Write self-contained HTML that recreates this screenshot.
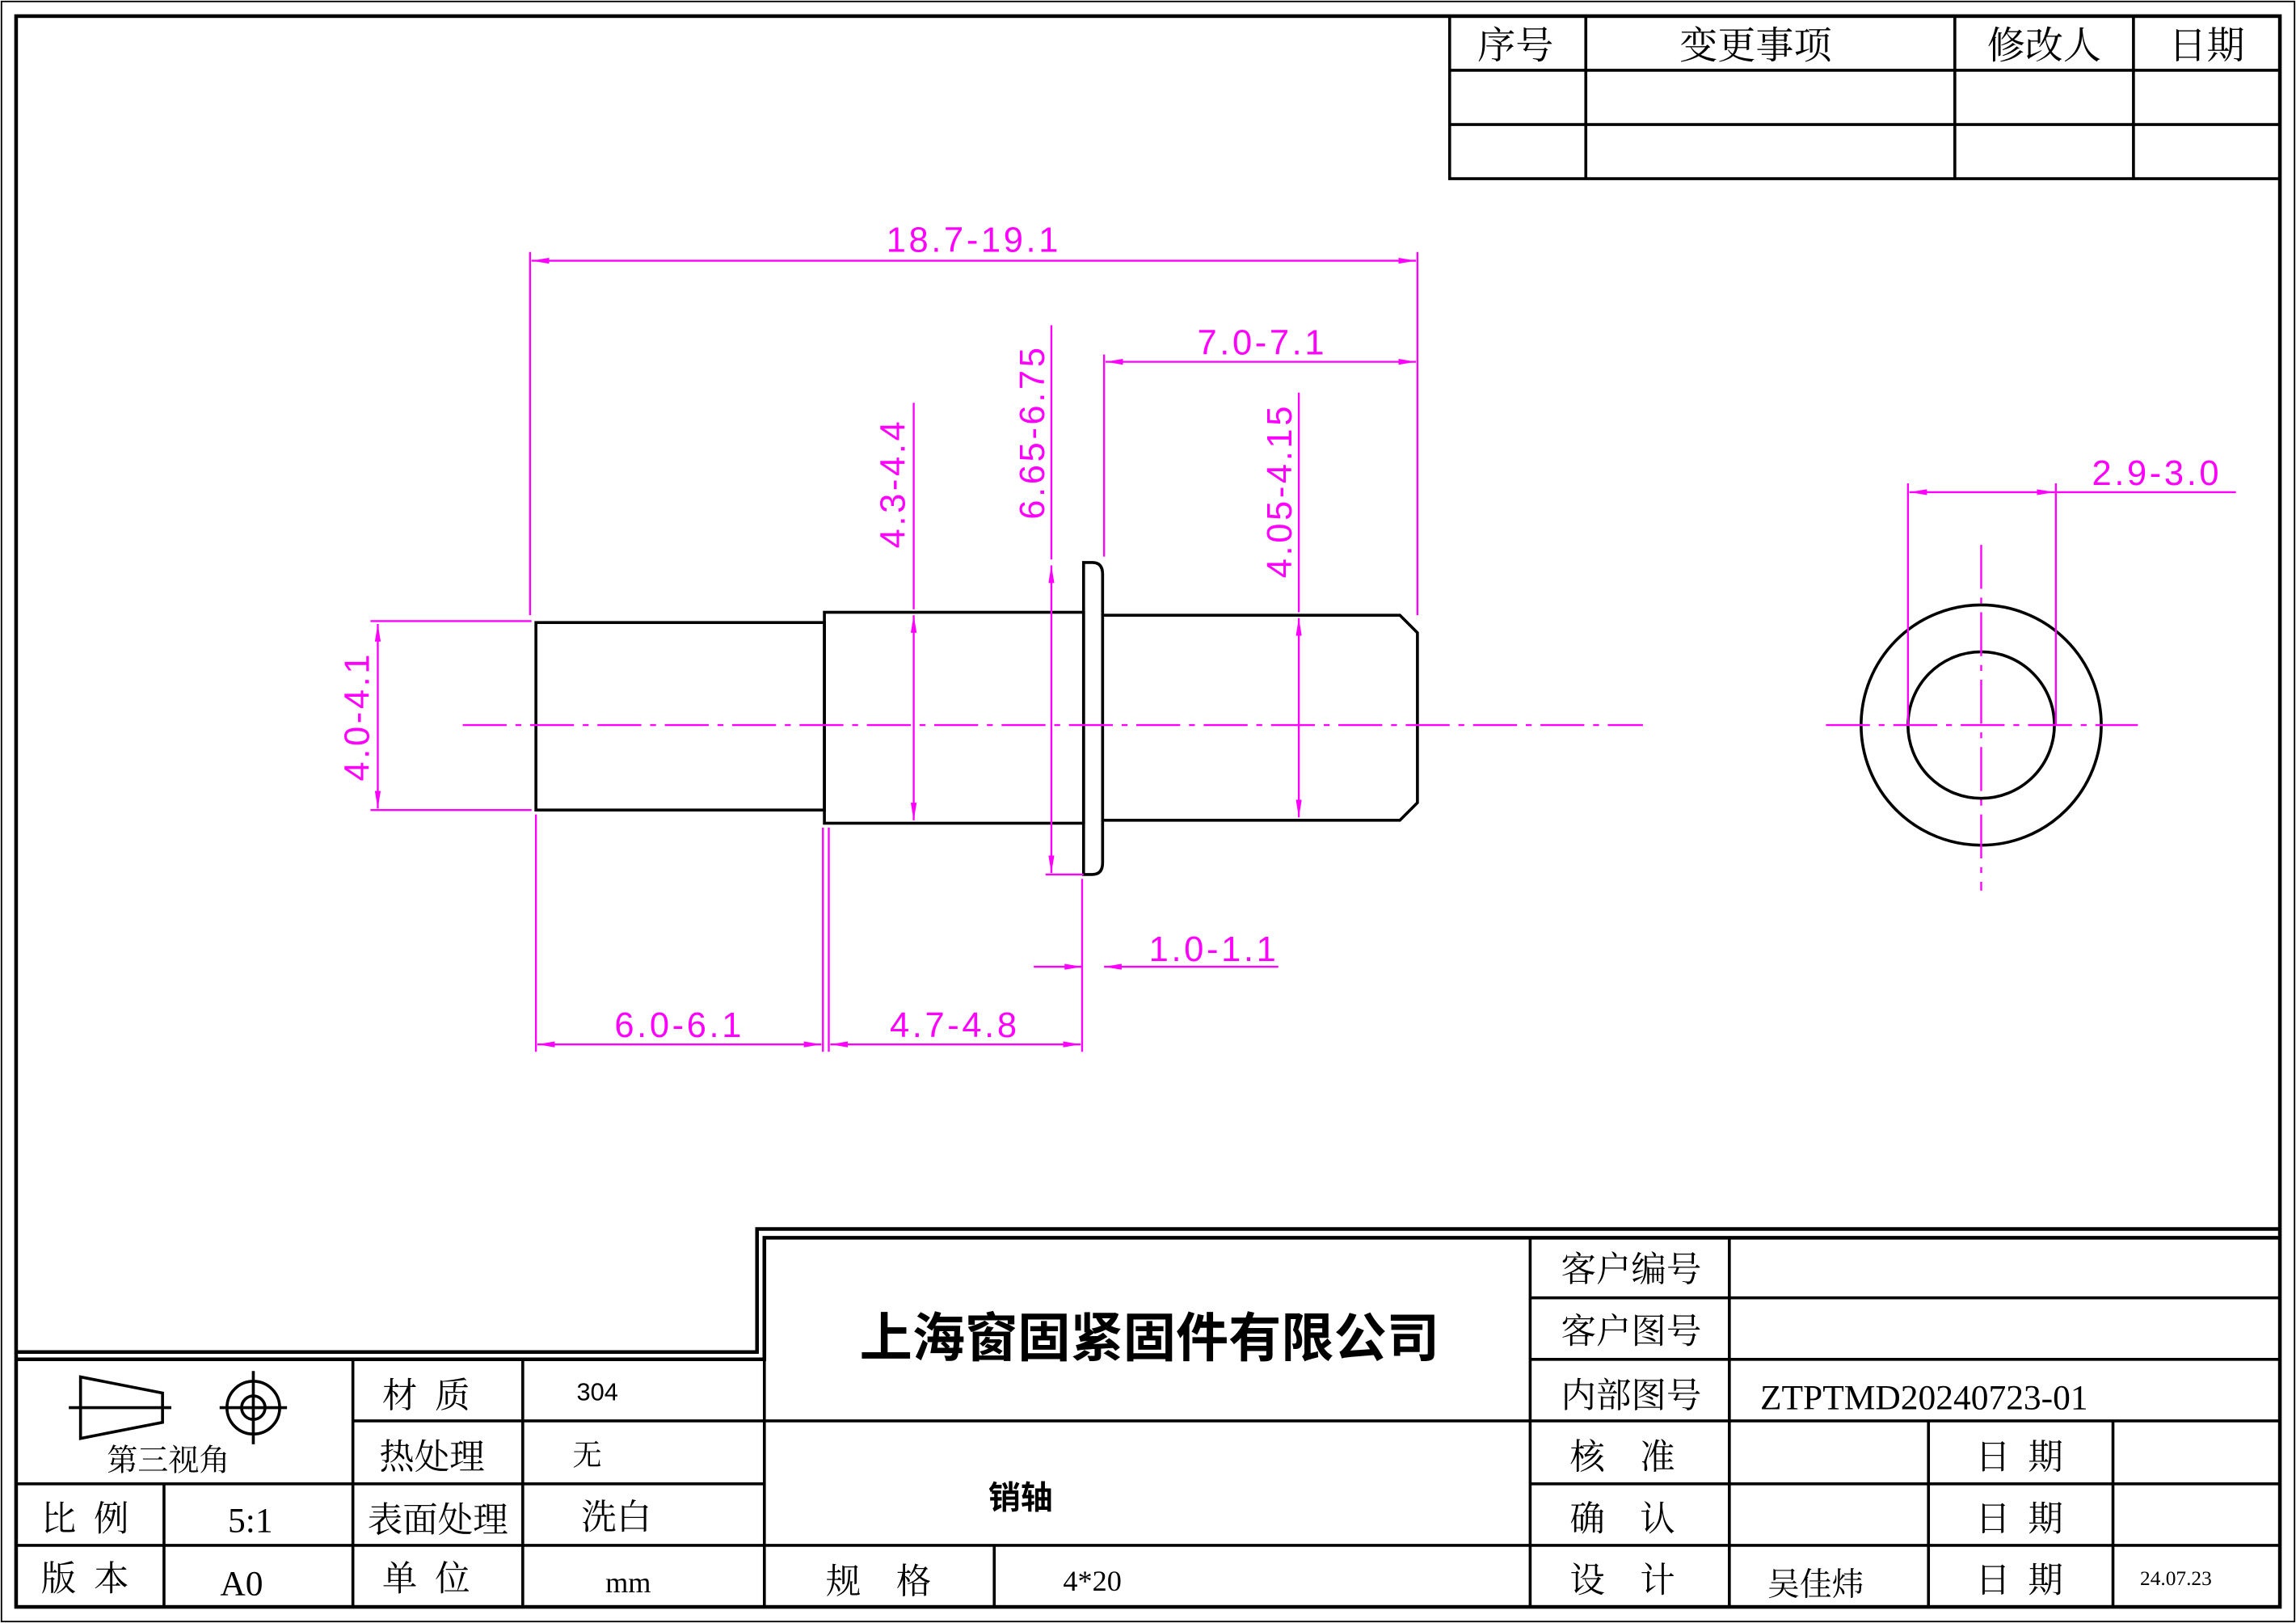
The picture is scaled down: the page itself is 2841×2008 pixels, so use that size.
<!DOCTYPE html>
<html><head><meta charset="utf-8"><style>
html,body{margin:0;padding:0;background:#fff;}
svg{display:block;}
text{font-family:"Liberation Serif","Noto Serif CJK SC","Noto Sans CJK SC",serif;white-space:pre;}
.t{font-size:24px;fill:#000;text-anchor:middle;}
.m{font-family:"Liberation Sans",sans-serif;font-size:24px;fill:#f0f;text-anchor:middle;}
</style></head><body>
<svg width="2841" height="2008" viewBox="0 0 1568 1108" preserveAspectRatio="none" xmlns="http://www.w3.org/2000/svg" xml:space="preserve">
<defs>
<marker id="a" viewBox="0 0 12 4" refX="12" refY="2" markerWidth="12" markerHeight="4" orient="auto-start-reverse" markerUnits="userSpaceOnUse"><path d="M0,0L12,2L0,4z" fill="#f0f"/></marker>
</defs>
<rect width="1568" height="1108" fill="#fff"/>
<rect x="1" y="1" width="1566" height="1106" fill="none" stroke="#000" stroke-width="1"/>
<rect x="11" y="11" width="1546" height="1086" fill="none" stroke="#000" stroke-width="2.5"/>
<g stroke="#000" stroke-width="2" fill="none">
<path d="M990,11V122H1557M990,48H1557M990,85H1557M1083,11V122M1335,11V122M1457,11V122"/>
</g>
<text x="1035" y="40" class="t" style="font-size:26px">序号</text>
<text x="1199" y="40" class="t" style="font-size:26px">变更事项</text>
<text x="1396" y="40" class="t" style="font-size:26px">修改人</text>
<text x="1507" y="40" class="t" style="font-size:26px">日期</text>
<g stroke="#000" stroke-width="2" fill="none">
<path d="M11,923H517V839H1557" stroke-width="2.5"/>
<path d="M11,928H522V845H1557" stroke-width="2.5"/>
<path d="M522,845V1097M1045,845V1097M1181,845V1097"/>
<path d="M1045,886H1557M1045,928H1557M522,970H1557M11,1013H522M1045,1013H1557M11,1055H1557"/>
<path d="M241,970H522M241,928V1097M357,928V1097M112,1013V1097M1317,970V1097M1443,970V1097M679,1055V1097"/>
</g>
<g stroke="#000" stroke-width="2" fill="none">
<path d="M55,940L111,951V971L55,982z"/><path d="M47,961H117"/>
<circle cx="173" cy="961" r="18"/><circle cx="173" cy="961" r="8"/><path d="M150,961H196M173,936V986"/>
</g>
<text x="115" y="1004" class="t" style="font-size:21px">第三视角</text>
<text x="291" y="961" class="t">材  质</text>
<text x="408" y="956" class="t" style="font-size:17px;font-family:'Liberation Sans Narrow','Liberation Sans',sans-serif">304</text>
<text x="295" y="1003" class="t">热处理</text>
<text x="401" y="1000" class="t" style="font-size:20px">无</text>
<text x="58" y="1045" class="t">比  例</text>
<text x="171" y="1046" class="t">5:1</text>
<text x="299" y="1046" class="t">表面处理</text>
<text x="421" y="1044" class="t">洗白</text>
<text x="58" y="1086" class="t">版  本</text>
<text x="165" y="1089" class="t">A0</text>
<text x="291" y="1086" class="t">单  位</text>
<text x="429" y="1087" class="t" style="font-size:20px">mm</text>
<text x="785" y="926" class="t" style="font-size:36px;font-weight:bold;font-family:'Noto Sans CJK SC',sans-serif">上海窗固紧固件有限公司</text>
<text x="697" y="1030" class="t" style="font-size:22px;font-weight:bold;font-family:'Noto Sans CJK SC',sans-serif">销轴</text>
<text x="600" y="1088" class="t">规    格</text>
<text x="746" y="1086" class="t" style="font-size:20px">4*20</text>
<text x="1114" y="875" class="t">客户编号</text>
<text x="1114" y="917" class="t">客户图号</text>
<text x="1114" y="961" class="t">内部图号</text>
<text x="1314" y="962" class="t">ZTPTMD20240723-01</text>
<text x="1108" y="1003" class="t">核    准</text>
<text x="1108" y="1045" class="t">确    认</text>
<text x="1108" y="1087" class="t">设    计</text>
<text x="1240" y="1089" class="t" style="font-size:22px">吴佳炜</text>
<text x="1379" y="1003" class="t">日  期</text>
<text x="1379" y="1045" class="t">日  期</text>
<text x="1379" y="1087" class="t">日  期</text>
<text x="1486" y="1082" class="t" style="font-size:14px">24.07.23</text>
<g stroke="#000" stroke-width="2" fill="none">
<rect x="366" y="425" width="197" height="128"/>
<rect x="563" y="418" width="177" height="144"/>
<path d="M740,384H746Q753,384 753,392V589Q753,597 746,597H740z"/>
<path d="M753,420H956L968,432V548L956,560H753"/>
<circle cx="1353" cy="495" r="82"/><circle cx="1353" cy="495" r="50"/>
</g>
<g stroke="#f0f" stroke-width="1.3" fill="none" stroke-dasharray="30,6,4,6">
<path d="M316,495H1122"/><path d="M1247,495H1460"/><path d="M1353,372V608"/>
</g>
<g stroke="#f0f" stroke-width="1.3" fill="none">
<path d="M362,420V172M968,420V172M754,380V242"/>
<path d="M363,178H967" marker-start="url(#a)" marker-end="url(#a)"/>
<path d="M755,247H967" marker-start="url(#a)" marker-end="url(#a)"/>
<path d="M253,424H363M253,553H363"/>
<path d="M258,426V552" marker-start="url(#a)" marker-end="url(#a)"/>
<path d="M624,275V416"/><path d="M624,420V560" marker-start="url(#a)" marker-end="url(#a)"/>
<path d="M718,222V382"/><path d="M718,386V596" marker-start="url(#a)" marker-end="url(#a)"/><path d="M714,597H740"/>
<path d="M887,268V418"/><path d="M887,422V558" marker-start="url(#a)" marker-end="url(#a)"/>
<path d="M366,556V718M562,565V718M566,565V718M739,600V718"/>
<path d="M367,713H561" marker-start="url(#a)" marker-end="url(#a)"/>
<path d="M567,713H738" marker-start="url(#a)" marker-end="url(#a)"/>
<path d="M706,660H739" marker-end="url(#a)"/><path d="M873,660H754" marker-end="url(#a)"/>
<path d="M1303,330V495M1404,330V495"/>
<path d="M1304,336H1403" marker-start="url(#a)" marker-end="url(#a)"/><path d="M1403,336H1527"/>
</g>
<text x="665" y="172" class="m" letter-spacing="2">18.7-19.1</text>
<text x="862" y="242" class="m" letter-spacing="2">7.0-7.1</text>
<text x="829" y="656" class="m" letter-spacing="2">1.0-1.1</text>
<text x="464" y="708" class="m" letter-spacing="2">6.0-6.1</text>
<text x="652" y="708" class="m" letter-spacing="2">4.7-4.8</text>
<text x="1473" y="331" class="m" letter-spacing="2">2.9-3.0</text>
<text x="0" y="0" class="m" letter-spacing="2" transform="translate(252,489) rotate(-90)">4.0-4.1</text>
<text x="0" y="0" class="m" letter-spacing="2" transform="translate(618,330) rotate(-90)">4.3-4.4</text>
<text x="0" y="0" class="m" letter-spacing="2" transform="translate(713,295) rotate(-90)">6.65-6.75</text>
<text x="0" y="0" class="m" letter-spacing="2" transform="translate(882,335) rotate(-90)">4.05-4.15</text>
</svg>
</body></html>
